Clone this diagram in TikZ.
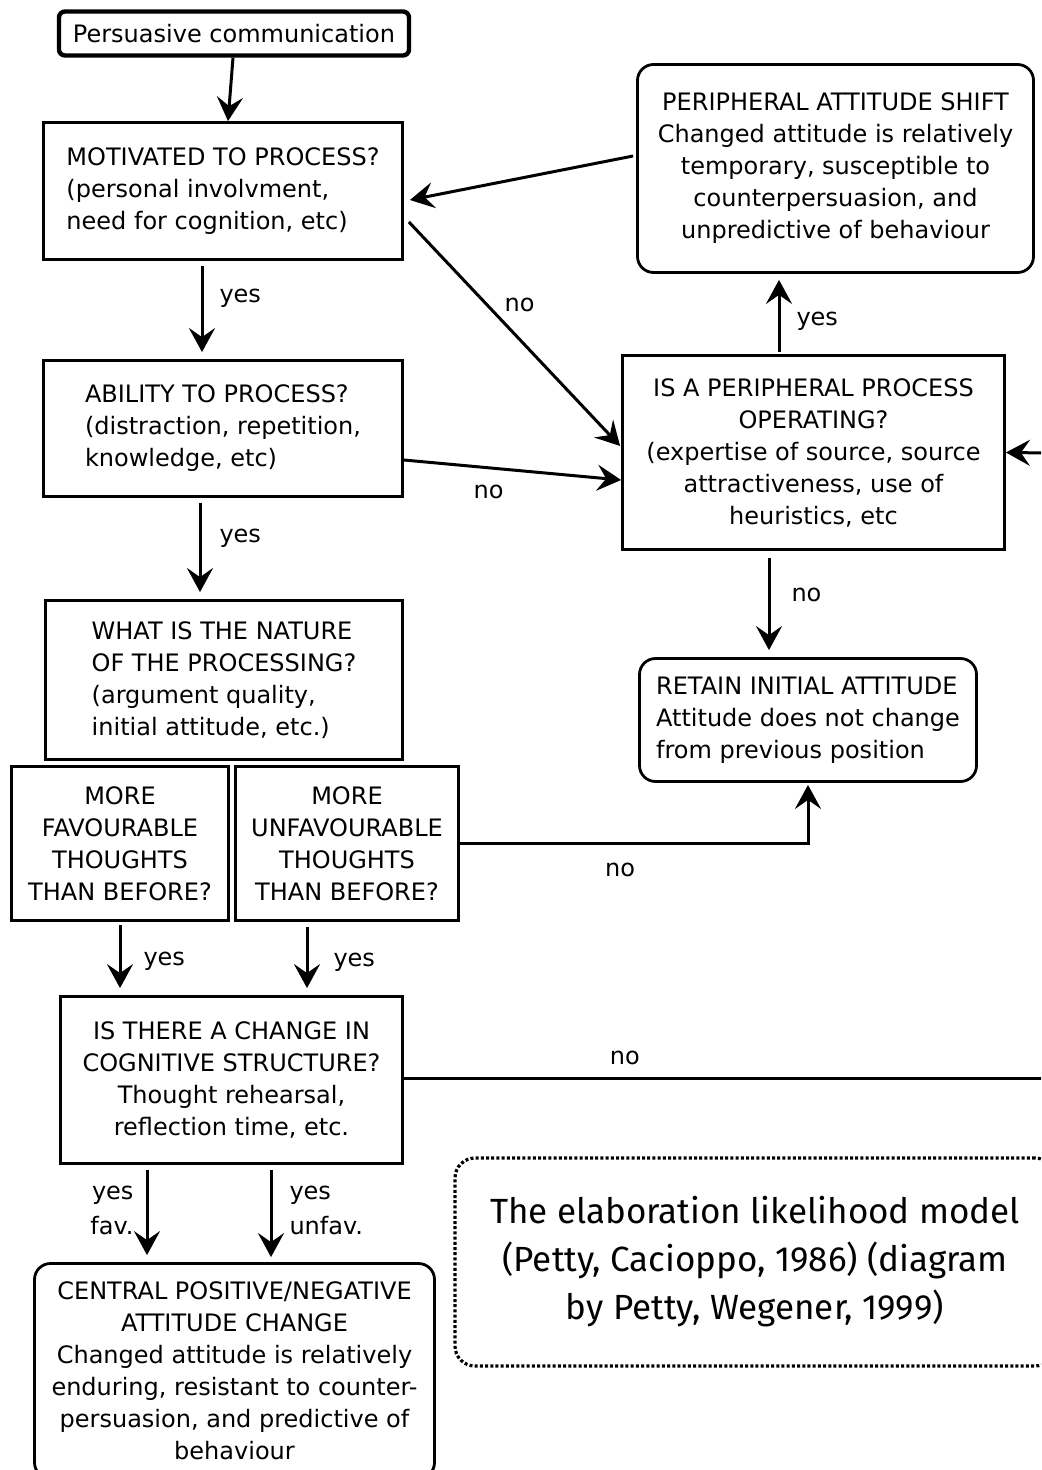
\documentclass[tikz,border=0pt]{standalone}
\usepackage{fontspec}
\setmainfont{DejaVu Sans}
\newfontfamily\capfont{Fira Sans}
\usetikzlibrary{arrows.meta}
\newcommand{\bodyfont}{\fontsize{12}{16}\selectfont}

\tikzset{
  qbox/.style={draw, line width=1.4pt, inner sep=0pt, font=\bodyfont},
  rbox/.style={qbox, rounded corners=8pt},
  arr/.style={-{Stealth[length=12pt,width=13pt,inset=4.5pt]}, line width=1.5pt},
  lbl/.style={font=\bodyfont, inner sep=2pt}
}

\begin{document}
\begin{tikzpicture}[x=0.5pt, y=-0.5pt]
        \clip (0,0) rectangle (1041,1470);
        \fill[white] (0,0) rectangle (1041,1470);
        % left column
        \node[qbox, rounded corners=3pt, line width=2.2pt, minimum width=175pt, minimum height=22pt] (pers) at (234,33.5) {Persuasive communication};
        \node[qbox, align=left, minimum width=179.5pt, minimum height=68.5pt] (motiv) at (223,191) {MOTIVATED TO PROCESS?\\(personal involvment,\\need for cognition, etc)};
        \node[qbox, align=left, minimum width=179.5pt, minimum height=68pt] (abil) at (223,428.5) {ABILITY TO PROCESS?\\(distraction, repetition,\\knowledge, etc)};
        \node[qbox, align=left, minimum width=178.5pt, minimum height=79.5pt] (nature) at (224,680) {WHAT IS THE NATURE\\OF THE PROCESSING?\\(argument quality,\\initial attitude, etc.)};
        \node[qbox, align=center, minimum width=108.5pt, minimum height=77pt] (fav) at (120,843.5) {MORE\\FAVOURABLE\\THOUGHTS\\THAN BEFORE?};
        \node[qbox, align=center, minimum width=111.5pt, minimum height=77pt] (unfav) at (347,843.5) {MORE\\UNFAVOURABLE\\THOUGHTS\\THAN BEFORE?};
        \node[qbox, align=center, minimum width=171pt, minimum height=83.5pt] (cogn) at (231.5,1080) {IS THERE A CHANGE IN\\COGNITIVE STRUCTURE?\\Thought rehearsal,\\reflection time, etc.};
        \node[rbox, align=center, minimum width=200pt, minimum height=107.5pt] (central) at (234.5,1371) {CENTRAL POSITIVE/NEGATIVE\\ATTITUDE CHANGE\\Changed attitude is relatively\\enduring, resistant to counter-\\persuasion, and predictive of\\behaviour};
        % right column
        \node[rbox, align=center, minimum width=198pt, minimum height=104pt] (shift) at (835.5,168.5) {PERIPHERAL ATTITUDE SHIFT\\Changed attitude is relatively\\temporary, susceptible to\\counterpersuasion, and\\unpredictive of behaviour};
        \node[qbox, align=center, minimum width=191pt, minimum height=97pt] (periph) at (813.5,452.5) {IS A PERIPHERAL PROCESS\\OPERATING?\\(expertise of source, source\\attractiveness, use of\\heuristics, etc};
        \node[rbox, align=left, minimum width=168.5pt, minimum height=61.5pt] (retain) at (808,720) {RETAIN INITIAL ATTITUDE\\Attitude does not change\\from previous position};
        \node[draw, line width=1.6pt, dash pattern=on 1.5pt off 1.1pt, rounded corners=10pt, minimum width=300pt, minimum height=104pt, align=center, font=\capfont\fontsize{17.5}{24}\selectfont] (cap) at (755,1262) {The elaboration likelihood model\\(Petty, Cacioppo, 1986) (diagram\\by Petty, Wegener, 1999)};
        \coordinate (loopin) at (1050,453);
        \coordinate (loopout) at (1050,1078);
        % connectors
        \draw[arr] ([xshift=-0.5pt]pers.south) -- ([xshift=2.5pt]motiv.north);
        \draw[arr] ([xshift=-10.5pt,yshift=-2.5pt]motiv.south) -- ([xshift=-10.5pt,yshift=3.5pt]abil.north) node[lbl, pos=0.37, right=6pt] {yes};
        \draw[arr] ([xshift=-11.5pt,yshift=-2.5pt]abil.south) -- ([xshift=-12pt,yshift=3.5pt]nature.north) node[lbl, pos=0.4, right=7pt] {yes};
        \draw[arr] ([yshift=-1.5pt]fav.south) -- ([xshift=-55.75pt,yshift=3.5pt]cogn.north) node[lbl, pos=0.58, right=9pt] {yes};
        \draw[arr] ([xshift=-20pt,yshift=-2.5pt]unfav.south) -- ([xshift=37.75pt,yshift=3.5pt]cogn.north) node[lbl, pos=0.57, right=10.5pt] {yes};
        \draw[arr] (unfav.east) -| ([yshift=-1pt]retain.south) node[lbl, pos=0.23, below=7pt] {no};
        \draw[arr] ([xshift=2.5pt,yshift=-15.5pt]motiv.east) -- ([xshift=-0.5pt,yshift=3.25pt]periph.west) node[lbl, pos=0.37, right=6pt] {no};
        \draw[arr] ([yshift=-15.75pt]abil.east) -- ([yshift=-13.75pt]periph.west) node[lbl, pos=0.39, below=6pt] {no};
        \draw[arr] ([xshift=-1.5pt,yshift=6.25pt]shift.west) -- ([xshift=3pt,yshift=-4.5pt]motiv.east);
        \draw[arr] ([xshift=-17.25pt,yshift=1pt]periph.north) -- ([xshift=-28.25pt,yshift=-3pt]shift.south) node[lbl, pos=0.42, right=6pt] {yes};
        \draw[arr] ([xshift=-22.25pt,yshift=-3.5pt]periph.south) -- ([xshift=-19.5pt,yshift=3.5pt]retain.north) node[lbl, pos=0.4, right=8.5pt] {no};
        \draw[arr] (loopin) -- (periph.east);
        \draw[line width=1.5pt] ([yshift=1pt]cogn.east) -- (loopout) node[lbl, pos=0.342, above=4pt] {no};
        \draw[arr] ([xshift=-42.25pt,yshift=-2.5pt]cogn.south) -- ([xshift=-43.75pt,yshift=3.5pt]central.north) node[lbl, pos=0.47, left=4pt, align=right, font=\fontsize{12}{17.5}\selectfont] {yes\\fav.};
        \draw[arr] ([xshift=19.75pt,yshift=-2.5pt]cogn.south) -- ([xshift=18.25pt,yshift=2.5pt]central.north) node[lbl, pos=0.47, right=6.5pt, align=left, font=\fontsize{12}{17.5}\selectfont] {yes\\unfav.};
\end{tikzpicture}
\end{document}
